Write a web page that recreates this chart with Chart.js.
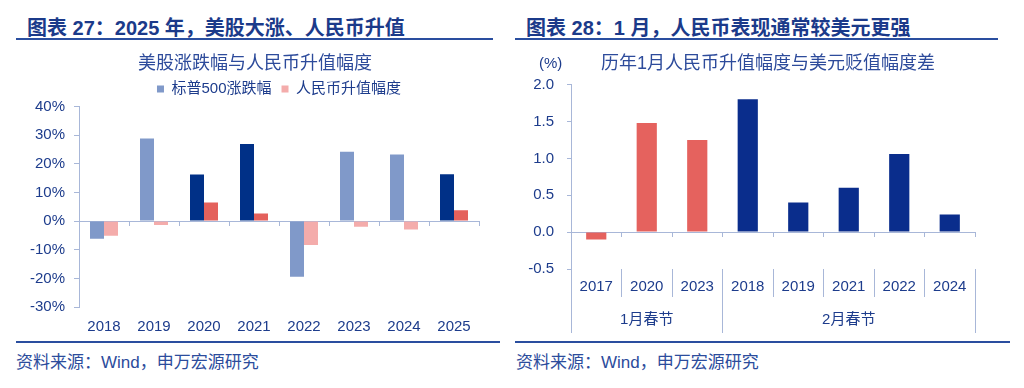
<!DOCTYPE html>
<html>
<head>
<meta charset="utf-8">
<script src="https://cdn.jsdelivr.net/npm/chart.js"></script>
<style>
  body { margin: 0; width: 1024px; height: 388px; position: relative; overflow: hidden; background: #fff;
         font-family: "Liberation Sans", "Noto Sans CJK SC", sans-serif; }
  .ttl { position: absolute; top: 16px; font-size: 20px; line-height: 24px; font-weight: bold; color: #1b3a8a; white-space: nowrap; }
  .rule { position: absolute; height: 2px; background: #2a4e9f; }
  .src { position: absolute; top: 353px; font-size: 17px; line-height: 20px; color: #2c4c9c; white-space: nowrap; }
  .box { position: absolute; top: 45px; }
  .unit { position: absolute; left: 539px; top: 54px; font-size: 15px; line-height: 18px; color: #1d3c8c; }
</style>
</head>
<body>
<div class="ttl" style="left:27px">图表 27：2025 年，美股大涨、人民币升值</div>
<div class="rule" style="left:16px; width:477px; top:38px"></div>
<div class="ttl" style="left:526px">图表 28：1 月，人民币表现通常较美元更强</div>
<div class="rule" style="left:515px; width:483px; top:38px"></div>

<div class="box" style="left:0"><canvas id="c1" width="510" height="302"></canvas></div>
<div class="box" style="left:512px"><canvas id="c2" width="512" height="300"></canvas></div>
<div class="unit">(%)</div>

<div class="rule" style="left:16px; width:484px; top:341px"></div>
<div class="rule" style="left:515px; width:495px; top:341px"></div>
<div class="src" style="left:16px">资料来源：Wind，申万宏源研究</div>
<div class="src" style="left:516px">资料来源：Wind，申万宏源研究</div>

<script>
// chart 27
var years1 = ['2018', '2019', '2020', '2021', '2022', '2023', '2024', '2025'];
var spxChange = [-6.2, 28.9, 16.3, 26.9, -19.4, 24.2, 23.3, 16.4];
var cnyChange = [-5.1, -1.4, 6.5, 2.7, -8.3, -2.0, -2.9, 3.8];
var strongYears = ['2020', '2021', '2025'];

// chart 28
var years2 = ['2017', '2020', '2023', '2018', '2019', '2021', '2022', '2024'];
var cnyVsUsd = [-0.10, 1.48, 1.25, 1.80, 0.40, 0.60, 1.06, 0.24];
var festivalMonth = ['1月春节', '1月春节', '1月春节', '2月春节', '2月春节', '2月春节', '2月春节', '2月春节'];

Chart.defaults.font.family = '"Liberation Sans", "Noto Sans CJK SC", sans-serif';
Chart.defaults.font.size = 15;
Chart.defaults.color = '#1d3c8c';
Chart.defaults.animation = false;

var axisLine = '#a8b7d8';

// category axis pinned to a y value, used only for its tick marks
function markAxis(yValue, len, color) {
  return {
    type: 'category', axis: 'x', position: { y: yValue }, offset: true,
    grid: { offset: true, drawOnChartArea: false, tickLength: len, color: color || axisLine },
    border: { display: yValue === 0, color: axisLine },
    ticks: { display: false }
  };
}

// empty axis on the right, only to leave room
function spacer(w) {
  return {
    type: 'linear', position: 'right',
    grid: { display: false, drawTicks: false }, border: { display: false },
    ticks: { display: false },
    afterFit: function (s) { s.width = w; }
  };
}

new Chart(document.getElementById('c1'), {
  type: 'bar',
  data: {
    labels: years1,
    datasets: [
      {
        label: '标普500涨跌幅',
        data: spxChange,
        backgroundColor: function (c) {
          return c.type === 'data' && strongYears.includes(years1[c.dataIndex]) ? '#003087' : '#8099c9';
        },
        categoryPercentage: 0.56,
        barPercentage: 1
      },
      {
        label: '人民币升值幅度',
        data: cnyChange,
        backgroundColor: function (c) {
          return c.type === 'data' && strongYears.includes(years1[c.dataIndex]) ? '#e4615c' : '#f4acab';
        },
        categoryPercentage: 0.56,
        barPercentage: 1
      }
    ]
  },
  options: {
    responsive: false,
    plugins: {
      title: {
        display: true, text: '美股涨跌幅与人民币升值幅度', color: '#2d4b9b',
        font: { size: 18, weight: 'normal' }, padding: { top: 8, bottom: -3 }
      },
      legend: {
        fullSize: false,
        labels: { boxWidth: 7, boxHeight: 7, padding: 10, color: '#1d3c8c' }
      },
      tooltip: { enabled: false }
    },
    scales: {
      x: {
        grid: { display: false, drawTicks: false }, border: { display: false },
        ticks: { padding: 11, autoSkip: false, maxRotation: 0 }
      },
      xz: markAxis(0, 4),
      y: {
        min: -30, max: 40,
        ticks: { stepSize: 10, padding: 9, callback: function (v) { return v + '%'; } },
        grid: { drawOnChartArea: false, tickLength: 5, color: axisLine },
        border: { color: axisLine },
        afterFit: function (s) { s.width = 79; }
      },
      pad: spacer(31)
    }
  }
});

var groupTicks = festivalMonth.map(function (g, i) {
  var first = festivalMonth.indexOf(g), last = festivalMonth.lastIndexOf(g);
  return i === Math.floor((first + last) / 2) ? g : '';
});

function groupEdgeColor(c) {
  var edge = c.type === 'scale' || c.index === 0 || festivalMonth[c.index] !== festivalMonth[c.index - 1];
  return edge ? axisLine : 'rgba(0,0,0,0)';
}

new Chart(document.getElementById('c2'), {
  type: 'bar',
  data: {
    labels: years2,
    datasets: [{
      label: '升值幅度差',
      data: cnyVsUsd,
      backgroundColor: function (c) {
        return festivalMonth[c.dataIndex] === '1月春节' ? '#e5625e' : '#0a2d8c';
      },
      barPercentage: 0.4,
      categoryPercentage: 1
    }]
  },
  options: {
    responsive: false,
    layout: { padding: { bottom: 10 } },
    plugins: {
      title: {
        display: true, text: '历年1月人民币升值幅度与美元贬值幅度差', color: '#2d4b9b',
        font: { size: 18, weight: 'normal' }, padding: { top: 8, bottom: 10 }
      },
      legend: { display: false },
      tooltip: { enabled: false }
    },
    scales: {
      x: {
        weight: 1,
        grid: { display: false, drawTicks: false }, border: { display: false },
        ticks: { padding: 9, autoSkip: false, maxRotation: 0 }
      },
      x2: {
        type: 'category', axis: 'x', position: 'bottom', weight: 2,
        labels: groupTicks, offset: true,
        grid: { display: false, drawTicks: false }, border: { display: false },
        ticks: { padding: 6, autoSkip: false, maxRotation: 0 }
      },
      xz: markAxis(0, 4),
      xsYear: markAxis(-0.5, 28),
      xsGroup: markAxis(-0.5, 64, groupEdgeColor),
      y: {
        min: -0.5, max: 2,
        ticks: { stepSize: 0.5, padding: 13, callback: function (v) { return v.toFixed(1); } },
        grid: { drawOnChartArea: false, tickLength: 4, color: axisLine },
        border: { color: axisLine },
        afterFit: function (s) { s.width = 59; }
      },
      pad: spacer(49)
    }
  }
});
</script>
</body>
</html>
